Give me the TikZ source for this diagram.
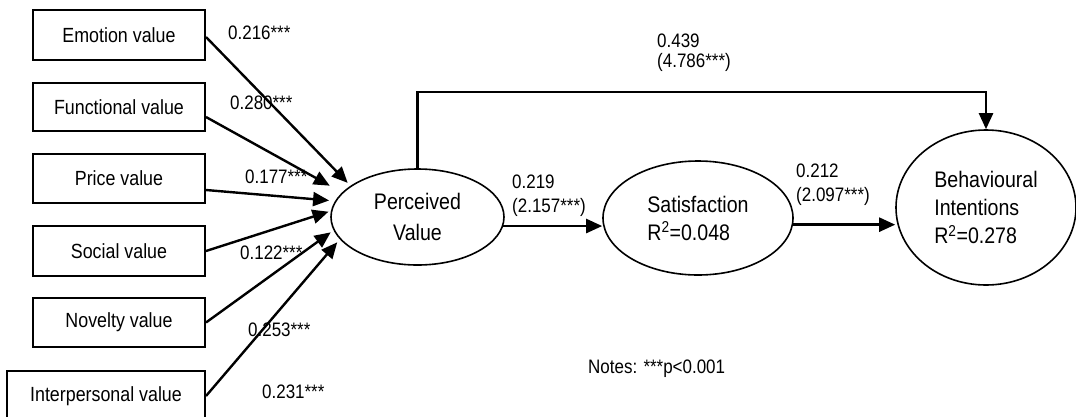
\documentclass[tikz,border=0pt]{standalone}
\usepackage{fontspec}
\setmainfont[FakeStretch=0.87]{Liberation Sans}
\usetikzlibrary{arrows.meta,shapes.geometric,calc}
\begin{document}
\begin{tikzpicture}[x=1pt,y=-1pt,
 box/.style={draw,line width=2pt,minimum width=172pt,inner sep=0pt,font=\fontsize{20.5}{24}\selectfont},
 ell/.style={draw,ellipse,line width=1.6pt,inner sep=0pt,align=left,font=\fontsize{22.5}{28}\selectfont},
 lab/.style={anchor=west,inner sep=0pt,align=left,font=\fontsize{19.5}{24}\selectfont},
 arr/.style={line width=2.4pt,-{Triangle[length=16pt,width=14pt]}}]
\useasboundingbox (0,0) rectangle (1076,416);

\node[box,minimum height=50pt] (emo) at (119,35) {Emotion value};
\node[box,minimum height=48pt] (fun) at (119,107) {Functional value};
\node[box,minimum height=49pt] (pri) at (119,178.5) {Price value};
\node[box,minimum height=50pt] (soc) at (119,251) {Social value};
\node[box,minimum height=49pt] (nov) at (119,322.5) {Novelty value};
\node[box,minimum height=50pt,minimum width=198pt] (int) at (106,396) {Interpersonal value};

\node[ell,minimum width=173pt,minimum height=96pt,align=center,font=\fontsize{22.5}{31}\selectfont] (pv) at (417.5,217) {Perceived\\Value};
\node[ell,minimum width=190pt,minimum height=114pt] (sat) at (698,218) {Satisfaction\\R\textsuperscript{2}=0.048};
\node[ell,minimum width=180pt,minimum height=155pt] (bi) at (986,207.5) {Behavioural\\Intentions\\R\textsuperscript{2}=0.278};

\draw[arr,shorten >=4pt] ([yshift=-2pt]emo.east) -- (pv.155.6);
\draw[arr,shorten >=14pt] ([yshift=-10pt]fun.east) -- (pv.162);
\draw[arr,shorten >=6pt] ([yshift=-11.5pt]pri.east) -- (pv.169);
\draw[arr,shorten >=2.5pt] (soc.east) -- (pv.176);
\draw[arr,shorten >=3.5pt] (nov.east) -- (pv.189);
\draw[arr,shorten >=4pt] (int.east) -- (pv.196);

\draw[arr] (pv.-6) -- (pv.-6 -| sat.west);
\draw[arr] (sat.-4.2) -- (sat.-4.2 -| bi.west);
\coordinate (bend) at (417.5,92);
\draw[arr] (pv.north) -- (pv.north |- bend) -| (bi.north);

\node[lab] (l1) at (228,33) {0.216***};
\node[lab] (l2) at (230,103) {0.280***};
\node[lab] (l3) at (245,177) {0.177***};
\node[lab] (l4) at (240,253) {0.122***};
\node[lab] (l5) at (248,330) {0.253***};
\node[lab] (l6) at (262,392) {0.231***};
\node[lab,font=\fontsize{19.5}{20}\selectfont] (l7) at (657,53) {0.439\\(4.786***)};
\node[lab] (l8) at (512,195.5) {0.219\\(2.157***)};
\node[lab] (l9) at (796,184.5) {0.212\\(2.097***)};
\node[lab] (notes) at (588,369) {Notes: ***p<0.001};
\end{tikzpicture}
\end{document}
